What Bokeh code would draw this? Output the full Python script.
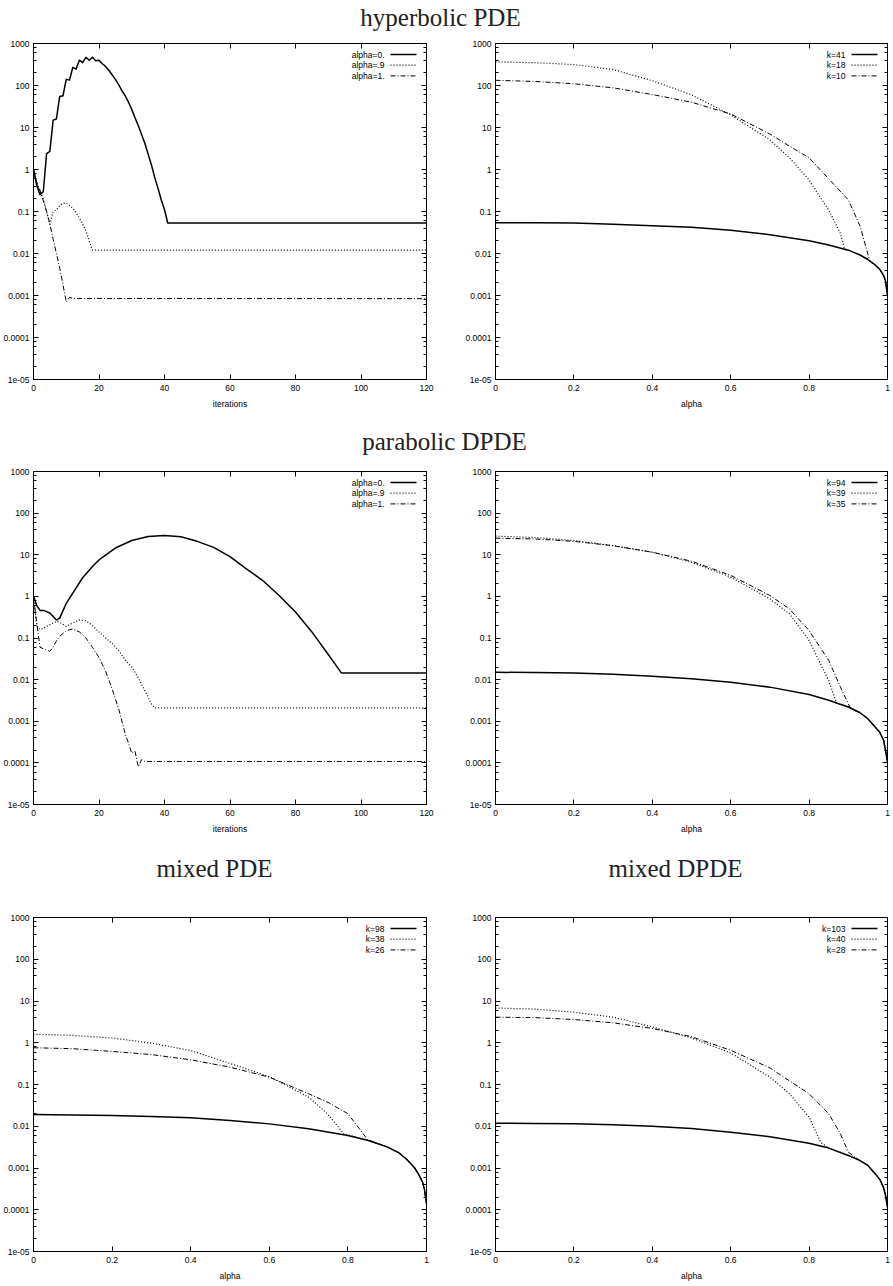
from bokeh.plotting import figure
from bokeh.models import (Range1d, LogAxis, LinearAxis, LogTicker,
                          SingleIntervalTicker, CustomJSTickFormatter, Label)
from bokeh.layouts import column, row
from bokeh.embed import file_html
from bokeh.resources import INLINE

# ---------------- data ----------------
YTICK_VALUES = [1e-05, 0.0001, 0.001, 0.01, 0.1, 1, 10, 100, 1000]
YTICK_LABELS = ["1e-05", "0.0001", "0.001", "0.01", "0.1", "1", "10", "100", "1000"]

# hyperbolic PDE, error vs iterations
hyp_it_x_a0 = list(range(0, 42)) + [120]
hyp_it_y_a0 = [1.0, 0.42, 0.25, 0.30, 2.4, 2.7, 15, 16, 55, 57,
               140, 135, 270, 245, 400, 350, 470, 400, 470, 390,
               400, 330, 285, 230, 180, 140, 105, 75, 57, 40,
               27, 17, 11, 6.8, 4.2, 2.3, 1.3, 0.65, 0.36, 0.19,
               0.11, 0.053, 0.053]
hyp_it_x_a09 = list(range(0, 19)) + [120]
hyp_it_y_a09 = [1.0, 0.45, 0.3, 0.2, 0.1, 0.05, 0.1, 0.11, 0.14, 0.155,
                0.16, 0.14, 0.12, 0.095, 0.07, 0.05, 0.035, 0.02, 0.012, 0.012]
hyp_it_x_a1 = list(range(0, 13)) + [120]
hyp_it_y_a1 = [1.0, 0.5, 0.32, 0.18, 0.1, 0.05, 0.022, 0.01, 0.0045, 0.0018,
               0.0007, 0.0009, 0.00085, 0.00084]

# hyperbolic PDE, error vs alpha
alpha_grid = [0, 0.1, 0.2, 0.3, 0.4, 0.5, 0.6, 0.7, 0.8, 0.85, 0.9, 0.93,
              0.95, 0.97, 0.98, 0.99, 0.995, 1.0]
hyp_al_k41 = [0.054, 0.054, 0.053, 0.050, 0.046, 0.042, 0.036, 0.028, 0.020,
              0.016, 0.012, 0.0092, 0.0072, 0.0052, 0.0042, 0.0030, 0.0022, 0.0010]
hyp_al_x_k18 = [0, 0.1, 0.2, 0.3, 0.4, 0.5, 0.6, 0.7, 0.75, 0.8, 0.85, 0.88,
                0.89, 0.9, 0.93, 0.95, 0.97, 0.98, 0.99, 0.995, 1.0]
hyp_al_y_k18 = [365, 350, 315, 240, 130, 60, 20, 5.1, 1.9, 0.56, 0.108, 0.03,
                0.013, 0.012, 0.0092, 0.0072, 0.0052, 0.0042, 0.0030, 0.0022, 0.0010]
hyp_al_x_k10 = [0, 0.1, 0.2, 0.3, 0.4, 0.5, 0.6, 0.7, 0.75, 0.8, 0.85, 0.9,
                0.93, 0.955, 0.97, 0.98, 0.99, 0.995, 1.0]
hyp_al_y_k10 = [133, 125, 110, 88, 61, 40, 21, 7.0, 3.6, 1.9, 0.6, 0.19,
                0.045, 0.0066, 0.0052, 0.0042, 0.0030, 0.0022, 0.0010]

# parabolic DPDE, error vs iterations
par_it_x_a0 = [0, 1, 2, 3, 4, 5, 6, 7, 8, 10, 12, 15, 18, 20, 25, 30, 35, 40,
               45, 50, 55, 60, 65, 70, 75, 80, 85, 90, 94, 120]
par_it_y_a0 = [1.0, 0.6, 0.46, 0.46, 0.43, 0.40, 0.33, 0.27, 0.3, 0.68, 1.2,
               2.8, 5.2, 7.5, 14.5, 22, 27.5, 29, 27, 21, 15, 9, 4.6, 2.4,
               1.05, 0.42, 0.14, 0.04, 0.0145, 0.0145]
par_it_x_a09 = [0, 1, 2, 3, 5, 7, 8, 10, 12, 14, 16, 18, 20, 22, 24, 26, 28,
                30, 32, 34, 36, 37, 120]
par_it_y_a09 = [1.0, 0.2, 0.16, 0.17, 0.21, 0.25, 0.24, 0.19, 0.23, 0.27,
                0.26, 0.2, 0.14, 0.1, 0.075, 0.05, 0.03, 0.02, 0.011, 0.0055,
                0.0026, 0.0021, 0.0021]
par_it_x_a1 = [0, 1, 2, 3, 4, 5, 6, 7, 8, 10, 12, 14, 16, 18, 20, 22, 24, 26,
               28, 29, 30, 31, 32, 33, 34, 120]
par_it_y_a1 = [1.0, 0.22, 0.06, 0.055, 0.052, 0.048, 0.06, 0.085, 0.11, 0.15,
               0.165, 0.14, 0.1, 0.06, 0.034, 0.016, 0.006, 0.002, 0.0005,
               0.0003, 0.00017, 0.00019, 0.00008, 0.00012, 0.000108, 0.000108]

# parabolic DPDE, error vs alpha
par_al_k94 = [0.015, 0.0148, 0.0145, 0.0135, 0.012, 0.0105, 0.0087, 0.0066,
              0.0044, 0.0032, 0.0022, 0.0016, 0.00115, 0.0007, 0.00055,
              0.00035, 0.0002, 0.000105]
par_al_x_k39 = [0, 0.1, 0.2, 0.3, 0.4, 0.5, 0.6, 0.7, 0.75, 0.8, 0.85, 0.87,
                0.9, 0.93, 0.95, 0.97, 0.98, 0.99, 0.995, 1.0]
par_al_y_k39 = [28, 26, 22, 16.5, 11.5, 6.6, 2.9, 0.87, 0.38, 0.087, 0.0095,
                0.0027, 0.0022, 0.0016, 0.00115, 0.0007, 0.00055, 0.00035,
                0.0002, 0.000105]
par_al_x_k35 = [0, 0.1, 0.2, 0.3, 0.4, 0.5, 0.6, 0.7, 0.75, 0.8, 0.85, 0.88,
                0.905, 0.93, 0.95, 0.97, 0.98, 0.99, 0.995, 1.0]
par_al_y_k35 = [25, 24, 21, 16.5, 11.5, 7.0, 3.2, 1.05, 0.5, 0.15, 0.029,
                0.0066, 0.0021, 0.0016, 0.00115, 0.0007, 0.00055, 0.00035,
                0.0002, 0.000105]

# mixed PDE, error vs alpha
mix_al_k98 = [0.019, 0.0187, 0.018, 0.0172, 0.016, 0.0138, 0.0114, 0.0087,
              0.006, 0.0046, 0.0032, 0.0023, 0.0016, 0.001, 0.0007, 0.00046,
              0.0003, 0.00014]
mix_al_x_k38 = [0, 0.1, 0.2, 0.3, 0.4, 0.5, 0.6, 0.7, 0.75, 0.79, 0.85, 0.9,
                0.93, 0.95, 0.97, 0.98, 0.99, 0.995, 1.0]
mix_al_y_k38 = [1.6, 1.5, 1.3, 0.98, 0.65, 0.32, 0.155, 0.05, 0.019, 0.0065,
                0.0046, 0.0032, 0.0023, 0.0016, 0.001, 0.0007, 0.00046,
                0.0003, 0.00014]
mix_al_x_k26 = [0, 0.1, 0.2, 0.3, 0.4, 0.5, 0.6, 0.7, 0.75, 0.8, 0.85, 0.9,
                0.93, 0.95, 0.97, 0.98, 0.99, 0.995, 1.0]
mix_al_y_k26 = [0.76, 0.72, 0.62, 0.52, 0.39, 0.26, 0.15, 0.06, 0.037, 0.02,
                0.0048, 0.0032, 0.0023, 0.0016, 0.001, 0.0007, 0.00046,
                0.0003, 0.00014]

# mixed DPDE, error vs alpha
mixd_al_k103 = [0.0118, 0.0117, 0.0114, 0.0108, 0.010, 0.0088, 0.0072,
                0.0056, 0.0039, 0.003, 0.002, 0.0015, 0.00115, 0.0007,
                0.00054, 0.00034, 0.00022, 0.000114]
mixd_al_x_k40 = [0, 0.1, 0.2, 0.3, 0.4, 0.5, 0.6, 0.7, 0.75, 0.8, 0.83, 0.85,
                 0.9, 0.93, 0.95, 0.97, 0.98, 0.99, 0.995, 1.0]
mixd_al_y_k40 = [6.8, 6.4, 5.4, 4.1, 2.4, 1.3, 0.57, 0.15, 0.06, 0.0165,
                 0.0041, 0.003, 0.002, 0.0015, 0.00115, 0.0007, 0.00054,
                 0.00034, 0.00022, 0.000114]
mixd_al_x_k28 = [0, 0.1, 0.2, 0.3, 0.4, 0.5, 0.6, 0.7, 0.8, 0.85, 0.88, 0.9,
                 0.93, 0.95, 0.97, 0.98, 0.99, 0.995, 1.0]
mixd_al_y_k28 = [4.1, 4.0, 3.6, 3.0, 2.2, 1.4, 0.66, 0.25, 0.06, 0.02, 0.0066,
                 0.0024, 0.0015, 0.00115, 0.0007, 0.00054, 0.00034, 0.00022,
                 0.000114]

# ---------------- styling ----------------
SANS = "Liberation Sans"
SERIF = "Liberation Serif"
TICK_FS = "8.5px"
TITLE_FS = "25px"
YMIN, YMAX = 1e-5, 1000
STYLES = [dict(line_width=1.5, line_dash="solid"),
          dict(line_width=1.2, line_dash="1 2"),
          dict(line_width=1.0, line_dash="5 2 1 2")]

yfmt_code = """
for (let i = 0; i < vals.length; i++) {
  if (Math.abs(Math.log10(tick) - Math.log10(vals[i])) < 1e-6) return labels[i];
}
return "";
"""


def style_axis(ax, labels=True):
    ax.major_tick_in = 5
    ax.major_tick_out = 0
    ax.minor_tick_in = 3
    ax.minor_tick_out = 0
    ax.axis_line_color = "black"
    ax.major_tick_line_color = "black"
    ax.minor_tick_line_color = "black"
    ax.major_label_text_font = SANS
    ax.major_label_text_font_size = TICK_FS
    ax.major_label_text_color = "black"
    ax.axis_label_text_font = SANS
    ax.axis_label_text_font_size = TICK_FS
    ax.axis_label_text_font_style = "normal"
    ax.axis_label_text_color = "black"
    if not labels:
        ax.major_label_standoff = 0


def panel(xmax, xstep, xlabel, series, names, fw, fh, bl, br, bt, bb):
    p = figure(frame_width=fw, frame_height=fh,
               x_range=Range1d(0, xmax), y_range=Range1d(YMIN, YMAX),
               y_axis_type="log", output_backend="svg", toolbar_location=None,
               min_border_left=bl, min_border_right=br,
               min_border_top=bt, min_border_bottom=bb,
               background_fill_color="white", border_fill_color="white")
    p.outline_line_color = "black"
    p.outline_line_width = 1
    p.grid.visible = False

    xfmt = CustomJSTickFormatter(code="return String(Math.round(tick * 1000) / 1000);")
    yfmt = CustomJSTickFormatter(args=dict(vals=YTICK_VALUES, labels=YTICK_LABELS),
                                 code=yfmt_code)
    blank = CustomJSTickFormatter(code="return '';")

    xa = p.xaxis[0]
    xa.ticker = SingleIntervalTicker(interval=xstep, num_minor_ticks=0)
    xa.formatter = xfmt
    xa.axis_label = xlabel
    style_axis(xa)
    xa.major_label_standoff = 5
    xa.axis_label_standoff = 5

    ya = p.yaxis[0]
    ya.ticker = LogTicker(num_minor_ticks=5)
    ya.formatter = yfmt
    style_axis(ya)
    ya.major_label_standoff = 4

    top = LinearAxis(ticker=SingleIntervalTicker(interval=xstep, num_minor_ticks=0),
                     formatter=blank)
    style_axis(top, labels=False)
    p.add_layout(top, "above")
    right = LogAxis(ticker=LogTicker(num_minor_ticks=5), formatter=blank)
    style_axis(right, labels=False)
    p.add_layout(right, "right")

    for (xs, ys), st in zip(series, STYLES):
        p.line(xs, ys, line_color="black", line_join="round", **st)

    # gnuplot-style key: text on the left, line sample on the right
    ldec = 8.0
    for i, (name, st) in enumerate(zip(names, STYLES)):
        dy = 11 + 10.7 * i
        yk = 10 ** (3 - ldec * dy / fh)
        xt = xmax * (1 - 42.0 / fw)
        p.add_layout(Label(x=xt, y=yk, text=name, text_align="right",
                           text_baseline="middle", text_font=SANS,
                           text_font_size=TICK_FS, text_color="black"))
        x1 = xmax * (1 - 36.0 / fw)
        x2 = xmax * (1 - 10.0 / fw)
        p.line([x1, x2], [yk, yk], line_color="black", **st)
    return p


TOTAL_W = 891


def title_strip(h, items):
    t = figure(width=TOTAL_W, height=h, x_range=Range1d(0, TOTAL_W), y_range=Range1d(0, h),
               x_axis_type=None, y_axis_type=None, toolbar_location=None, title=None,
               output_backend="svg", min_border=0, outline_line_color=None,
               background_fill_color="white", border_fill_color="white")
    for text, cx, cy in items:
        t.add_layout(Label(x=cx, y=h - cy, text=text, text_align="center",
                           text_baseline="middle", text_font=SERIF,
                           text_font_size=TITLE_FS, text_color="#222222"))
    return t


IT_NAMES = ["alpha=0.", "alpha=.9", "alpha=1."]

# widths: left figure 33+393+36 = 462, right figure 33+392+4 = 429  -> 891
t1 = title_strip(32, [("hyperbolic PDE", 440, 16.6)])
p1 = panel(120, 20, "iterations",
           [(hyp_it_x_a0, hyp_it_y_a0), (hyp_it_x_a09, hyp_it_y_a09), (hyp_it_x_a1, hyp_it_y_a1)],
           IT_NAMES, 393, 336, 33, 36, 11, 46)
p2 = panel(1, 0.2, "alpha",
           [(alpha_grid, hyp_al_k41), (hyp_al_x_k18, hyp_al_y_k18), (hyp_al_x_k10, hyp_al_y_k10)],
           ["k=41", "k=18", "k=10"], 392, 336, 33, 4, 11, 46)

t2 = title_strip(33, [("parabolic DPDE", 444, 15.6)])
p3 = panel(120, 20, "iterations",
           [(par_it_x_a0, par_it_y_a0), (par_it_x_a09, par_it_y_a09), (par_it_x_a1, par_it_y_a1)],
           IT_NAMES, 393, 333, 33, 36, 13, 42)
p4 = panel(1, 0.2, "alpha",
           [(alpha_grid, par_al_k94), (par_al_x_k39, par_al_y_k39), (par_al_x_k35, par_al_y_k35)],
           ["k=94", "k=39", "k=35"], 392, 333, 33, 4, 13, 42)

t3 = title_strip(58, [("mixed PDE", 214, 21.6), ("mixed DPDE", 675, 21.6)])
p5 = panel(1, 0.2, "alpha",
           [(alpha_grid, mix_al_k98), (mix_al_x_k38, mix_al_y_k38), (mix_al_x_k26, mix_al_y_k26)],
           ["k=98", "k=38", "k=26"], 393, 334, 33, 36, 13, 33)
p6 = panel(1, 0.2, "alpha",
           [(alpha_grid, mixd_al_k103), (mixd_al_x_k40, mixd_al_y_k40), (mixd_al_x_k28, mixd_al_y_k28)],
           ["k=103", "k=40", "k=28"], 392, 334, 33, 4, 13, 33)

layout = column(t1, row(p1, p2), t2, row(p3, p4), t3, row(p5, p6))

open("out.html", "w").write(file_html(layout, INLINE))
